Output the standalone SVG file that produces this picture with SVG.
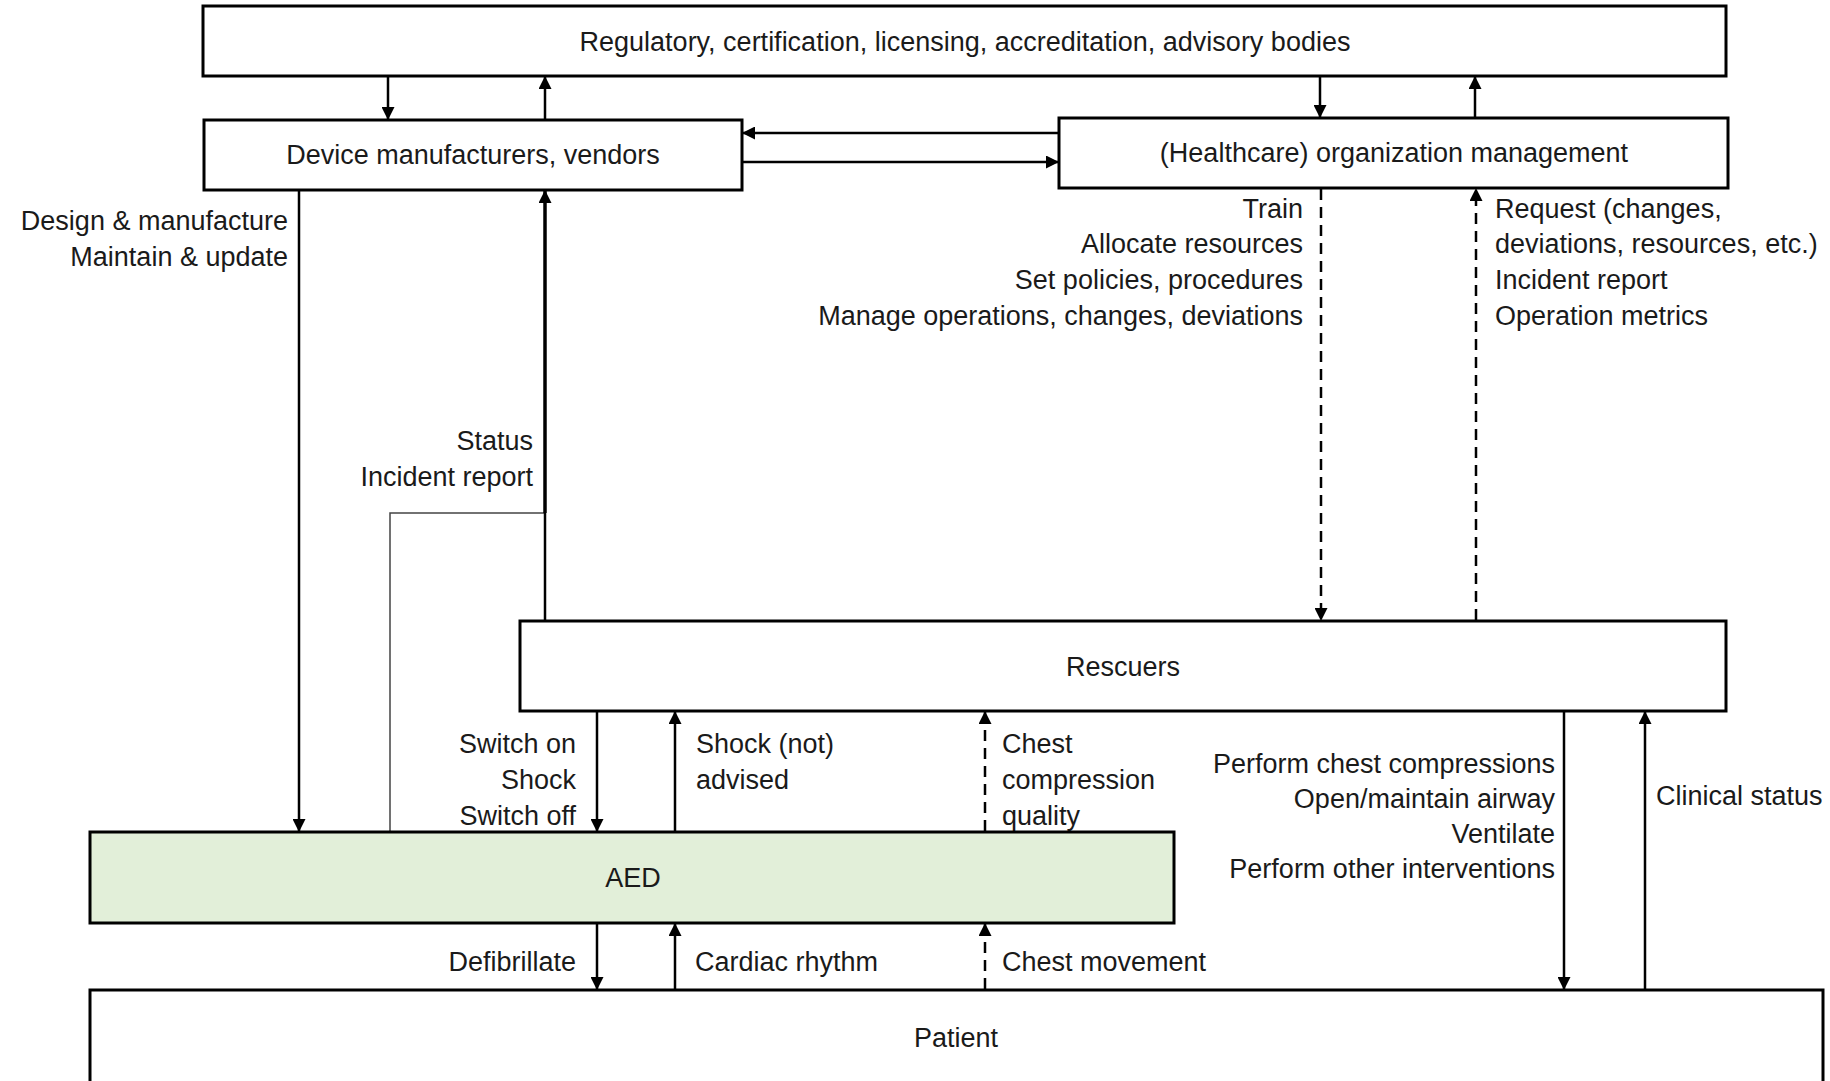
<svg xmlns="http://www.w3.org/2000/svg" width="1830" height="1081" viewBox="0 0 1830 1081">
<style>
.box{fill:#fff;stroke:#000;stroke-width:3}
.aed{fill:#e2efd9;stroke:#000;stroke-width:3}
text{font-family:"Liberation Sans",Arial,sans-serif;font-size:27px;fill:#1a1a1a}
.c{text-anchor:middle}
.r{text-anchor:end}
.l{text-anchor:start}
.ln{fill:none;stroke:#000;stroke-width:2.5}
.dash{stroke-dasharray:11,7}
.thin{fill:none;stroke:#444;stroke-width:1.5}
</style>
<defs>
<marker id="ah" viewBox="0 0 13 13" markerWidth="13" markerHeight="13" refX="12" refY="6.5" orient="auto" markerUnits="userSpaceOnUse">
<path d="M0,0 L13,6.5 L0,13 z" fill="#000"/>
</marker>
</defs>
<rect width="1830" height="1081" fill="#fff"/>
<g id="connectors">
<path class="ln" d="M388,77 V119" marker-end="url(#ah)"/>
<path class="ln" d="M545,119 V77" marker-end="url(#ah)"/>
<path class="ln" d="M1320,77 V117" marker-end="url(#ah)"/>
<path class="ln" d="M1475,117 V77" marker-end="url(#ah)"/>
<path class="ln" d="M1058,133 H743" marker-end="url(#ah)"/>
<path class="ln" d="M743,162 H1058" marker-end="url(#ah)"/>
<path class="ln" d="M299,191 V831" marker-end="url(#ah)"/>
<path class="thin" d="M390,831 V513 H545"/>
<path class="ln" d="M545,620 V513"/>
<path class="ln" style="stroke-width:3.5" d="M545,513 V191" marker-end="url(#ah)"/>
<path class="ln dash" d="M1321,189 V620" marker-end="url(#ah)"/>
<path class="ln dash" d="M1476,620 V189" marker-end="url(#ah)"/>
<path class="ln" d="M597,712 V831" marker-end="url(#ah)"/>
<path class="ln" d="M675,831 V712" marker-end="url(#ah)"/>
<path class="ln dash" d="M985,831 V712" marker-end="url(#ah)"/>
<path class="ln" d="M597,924 V989" marker-end="url(#ah)"/>
<path class="ln" d="M675,989 V924" marker-end="url(#ah)"/>
<path class="ln dash" d="M985,989 V924" marker-end="url(#ah)"/>
<path class="ln" d="M1564,712 V989" marker-end="url(#ah)"/>
<path class="ln" d="M1645,989 V712" marker-end="url(#ah)"/>
<text class="r" x="288" y="230">Design &amp; manufacture</text>
<text class="r" x="288" y="266">Maintain &amp; update</text>
<text class="r" x="533" y="450">Status</text>
<text class="r" x="533" y="486">Incident report</text>
<text class="r" x="1303" y="218">Train</text>
<text class="r" x="1303" y="253">Allocate resources</text>
<text class="r" x="1303" y="289">Set policies, procedures</text>
<text class="r" x="1303" y="325">Manage operations, changes, deviations</text>
<text class="l" x="1495" y="218">Request (changes,</text>
<text class="l" x="1495" y="253">deviations, resources, etc.)</text>
<text class="l" x="1495" y="289">Incident report</text>
<text class="l" x="1495" y="325">Operation metrics</text>
<text class="r" x="576" y="753">Switch on</text>
<text class="r" x="576" y="789">Shock</text>
<text class="r" x="576" y="825">Switch off</text>
<text class="l" x="696" y="753">Shock (not)</text>
<text class="l" x="696" y="789">advised</text>
<text class="l" x="1002" y="753">Chest</text>
<text class="l" x="1002" y="789">compression</text>
<text class="l" x="1002" y="825">quality</text>
<text class="r" x="576" y="971">Defibrillate</text>
<text class="l" x="695" y="971">Cardiac rhythm</text>
<text class="l" x="1002" y="971">Chest movement</text>
<text class="r" x="1555" y="773">Perform chest compressions</text>
<text class="r" x="1555" y="808">Open/maintain airway</text>
<text class="r" x="1555" y="843">Ventilate</text>
<text class="r" x="1555" y="878">Perform other interventions</text>
<text class="l" x="1656" y="805">Clinical status</text>
</g>
<g id="regulatory">
<rect class="box" x="203" y="6" width="1523" height="70"/>
<text class="c" x="965" y="51">Regulatory, certification, licensing, accreditation, advisory bodies</text>
</g>
<g id="manufacturers">
<rect class="box" x="204" y="120" width="538" height="70"/>
<text class="c" x="473" y="164">Device manufacturers, vendors</text>
</g>
<g id="management">
<rect class="box" x="1059" y="118" width="669" height="70"/>
<text class="c" x="1394" y="162">(Healthcare) organization management</text>
</g>
<g id="rescuers">
<rect class="box" x="520" y="621" width="1206" height="90"/>
<text class="c" x="1123" y="676">Rescuers</text>
</g>
<g id="aed">
<rect class="aed" x="90" y="832" width="1084" height="91"/>
<text class="c" x="633" y="887">AED</text>
</g>
<g id="patient">
<rect class="box" x="90" y="990" width="1733" height="110"/>
<text class="c" x="956" y="1047">Patient</text>
</g>
</svg>
